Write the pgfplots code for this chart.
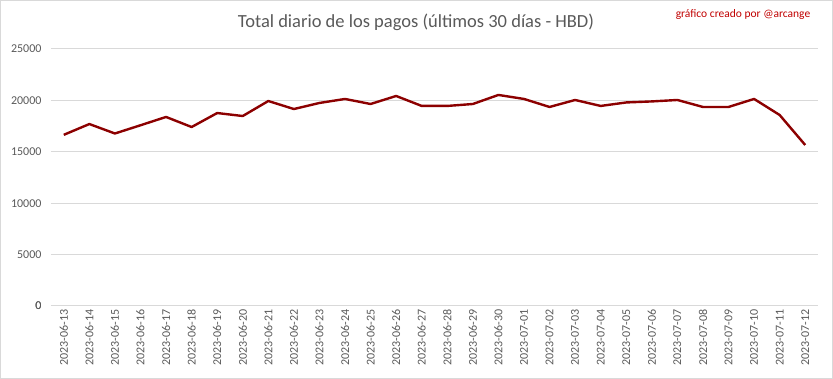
\documentclass[border=0pt]{standalone}
\usepackage{pgfplots}
\pgfplotsset{compat=1.18}
\usepackage{fontspec}
\setmainfont{Carlito}
\definecolor{lineRed}{RGB}{140,0,0}
\definecolor{markRed}{RGB}{192,0,0}
\definecolor{txtGray}{RGB}{89,89,89}
\definecolor{gridGray}{RGB}{217,217,217}
\begin{document}
\begin{tikzpicture}[x=1pt,y=1pt]
\useasboundingbox (0,0) rectangle (833,379);
\draw[gridGray, line width=1pt] (0.5,0.5) rectangle (832.5,378.5);
\node[txtGray, font=\fontsize{18.5}{20}\selectfont] at (416,357) {Total diario de los pagos (últimos 30 días - HBD)};
\node[markRed, font=\fontsize{11.5}{13}\selectfont] at (743,364) {gráfico creado por @arcange};
\begin{axis}[
  at={(51pt,73pt)}, anchor=south west,
  scale only axis, width=767pt, height=257pt,
  xmin=-0.5, xmax=29.5, ymin=0, ymax=25000,
  ytick={0,5000,...,25000},
  xtick={0,...,29},
  xticklabels={2023-06-13,2023-06-14,2023-06-15,2023-06-16,2023-06-17,2023-06-18,2023-06-19,2023-06-20,2023-06-21,2023-06-22,2023-06-23,2023-06-24,2023-06-25,2023-06-26,2023-06-27,2023-06-28,2023-06-29,2023-06-30,2023-07-01,2023-07-02,2023-07-03,2023-07-04,2023-07-05,2023-07-06,2023-07-07,2023-07-08,2023-07-09,2023-07-10,2023-07-11,2023-07-12},
  xticklabel style={rotate=90, anchor=east, xshift=0pt, font=\fontsize{12}{13}\selectfont, text=txtGray},
  yticklabel style={font=\fontsize{12}{13}\selectfont, text=txtGray, xshift=-6pt},
  /pgf/number format/assume math mode=true,
  scaled y ticks=false,
  yticklabel={\pgfmathprintnumber[fixed,1000 sep={}]{\tick}},
  ymajorgrids, grid style={gridGray, line width=1pt},
  axis line style={draw=none},
  extra y ticks={0}, extra y tick style={grid style={gridGray,line width=1pt}},
  major tick length=0pt,
  tick style={draw=none},
  clip=false,
]
\addplot[lineRed, line width=2.4pt, line join=round] coordinates {
(0,16650) (1,17700) (2,16780) (3,17580) (4,18390) (5,17410) (6,18770) (7,18480) (8,19940) (9,19160)
(10,19750) (11,20140) (12,19650) (13,20430) (14,19460) (15,19460) (16,19650) (17,20530) (18,20140) (19,19360)
(20,20040) (21,19460) (22,19800) (23,19900) (24,20040) (25,19360) (26,19360) (27,20140) (28,18580) (29,15660)
};
\end{axis}
\end{tikzpicture}
\end{document}
